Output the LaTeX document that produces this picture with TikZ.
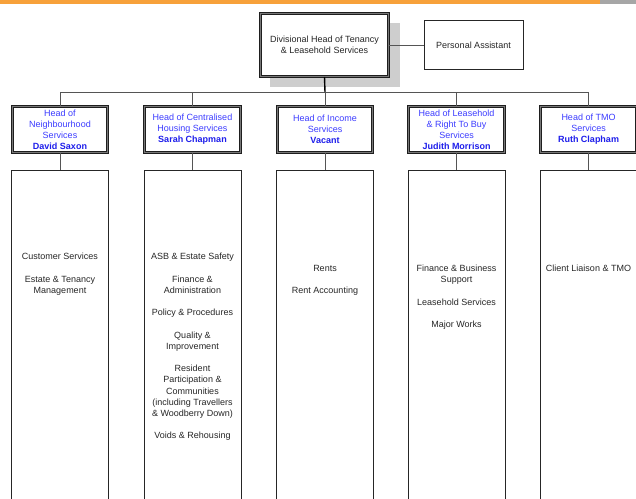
\documentclass[tikz,border=0pt]{standalone}
\usepackage{fontspec}
\setmainfont{Liberation Sans}
\usetikzlibrary{backgrounds}
\definecolor{orangebar}{RGB}{247,161,58}
\definecolor{greybar}{RGB}{166,166,166}
\definecolor{headblue}{RGB}{60,60,255}
\definecolor{nameblue}{RGB}{30,30,235}
\definecolor{shadowgrey}{RGB}{206,206,206}
\definecolor{linegrey}{RGB}{85,85,85}
\definecolor{frameline}{RGB}{30,30,30}
\definecolor{framegap}{RGB}{120,120,120}
\begin{document}
\begin{tikzpicture}[x=1pt,y=-1pt,
  every node/.style={font=\fontsize{9}{11.2}\selectfont},
  dblbox/.style={draw=frameline, double=framegap, double distance=1.4pt, line width=1pt,
    fill=white, align=center, inner sep=1pt},
  topbox/.style={dblbox, minimum width=128pt, minimum height=63pt, text=black!85},
  pabox/.style={draw=black!85, line width=0.8pt, fill=white, minimum width=99pt,
    minimum height=49pt, align=center, text=black!85},
  headbox/.style={dblbox, minimum width=95.5pt, minimum height=46pt, text=headblue,
    font=\fontsize{9}{11}\selectfont},
  listbox/.style={draw=black!85, line width=0.8pt, minimum width=97pt,
    minimum height=345pt, anchor=north, inner sep=0pt},
  listtext/.style={anchor=north, align=center, inner sep=0pt, text=black!85},
  conn/.style={draw=linegrey, line width=0.9pt}
]
\useasboundingbox (0,0) rectangle (636,498);
\clip (0,0) rectangle (636,498);

% top bar
\fill[orangebar] (0,0) rectangle (600,4);
\fill[greybar] (600,0) rectangle (636,4);

% top boxes
\node[topbox] (top) at (324.5,45) {Divisional Head of Tenancy\\\& Leasehold Services};
\begin{scope}[on background layer]
  \fill[shadowgrey] ([shift={(10,10)}]top.north west) rectangle ([shift={(11,10)}]top.south east);
\end{scope}
\node[pabox] (pa) at (473.5,45) {Personal Assistant};
\draw[conn] (top.east) -- (pa.west);

% heads
\node[headbox] (h1) at (60,129.5) {Head of\\Neighbourhood\\Services\\{\bfseries\color{nameblue}David Saxon}};
\node[headbox] (h2) at (192.5,129.5) {Head of Centralised\\Housing Services\\{\bfseries\color{nameblue}Sarah Chapman}};
\node[headbox] (h3) at (325,129.5) {Head of Income\\Services\\{\bfseries\color{nameblue}Vacant}};
\node[headbox] (h4) at (456.5,129.5) {Head of Leasehold\\\& Right To Buy\\Services\\{\bfseries\color{nameblue}Judith Morrison}};
\node[headbox] (h5) at (588.5,129.5) {Head of TMO\\Services\\{\bfseries\color{nameblue}Ruth Clapham}};

% bus
\coordinate (bus) at (325,92);
\draw[conn] (h1.north) -- (h1.north |- bus) -- (h5.north |- bus) -- (h5.north);
\draw[conn] (h2.north) -- (h2.north |- bus);
\draw[conn] (h4.north) -- (h4.north |- bus);
\draw[conn] (h3.north) -- (h3.north |- bus);
\draw[black, line width=1.4pt] (top.south) -- (bus);

% list boxes
\node[listbox] (l1) at (60,170) {};
\node[listbox] (l2) at (192.5,170) {};
\node[listbox] (l3) at (325,170) {};
\node[listbox] (l4) at (456.5,170) {};
\node[listbox] (l5) at (588.5,170) {};
\foreach \i in {1,...,5} { \draw[conn] (h\i.south) -- (l\i.north); }

% list texts
\node[listtext] (t1) at (60,253) {Customer Services\\[11.2pt]Estate \& Tenancy\\Management};
\node[listtext] (t2) at (192.5,253) {ASB \& Estate Safety\\[11.2pt]Finance \&\\Administration\\[11.2pt]Policy \& Procedures\\[11.2pt]Quality \&\\Improvement\\[11.2pt]Resident\\Participation \&\\Communities\\(including Travellers\\\& Woodberry Down)\\[11.2pt]Voids \& Rehousing};
\node[listtext] (t3) at (325,265) {Rents\\[11.2pt]Rent Accounting};
\node[listtext] (t4) at (456.5,265) {Finance \& Business\\Support\\[11.2pt]Leasehold Services\\[11.2pt]Major Works};
\node[listtext] (t5) at (588.5,265) {Client Liaison \& TMO};
\end{tikzpicture}
\end{document}
